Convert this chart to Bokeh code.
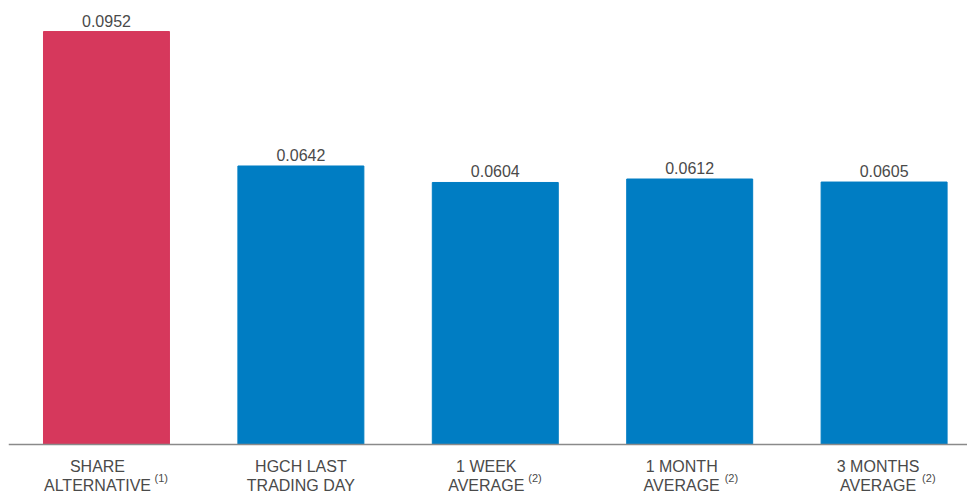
from bokeh.plotting import figure
from bokeh.models import ColumnDataSource, Range1d, Span
from bokeh.core.properties import value
from bokeh.embed import file_html
from bokeh.resources import INLINE

# ---- data ----
line1 = ["SHARE", "HGCH LAST", "1 WEEK", "1 MONTH", "3 MONTHS"]
line2 = ["ALTERNATIVE", "TRADING DAY", "AVERAGE", "AVERAGE", "AVERAGE"]
notes = ["(1)", "", "(2)", "(2)", "(2)"]
values = [0.0952, 0.0642, 0.0604, 0.0612, 0.0605]
value_labels = ["0.0952", "0.0642", "0.0604", "0.0612", "0.0605"]

# ---- styles ----
colors = ["#D6385C", "#007DC3", "#007DC3", "#007DC3", "#007DC3"]
label_shift = [-9, 0, -9, -8, -6]      # px shift of category text
note_shift = [48, 0, 33, 35, 38]       # px offset of superscript start
FONT = value("Liberation Sans")
TXT = "#4a4a4a"

xs = list(range(len(values)))
src = dict(x=xs, top=values, color=colors, lab=value_labels)

p = figure(width=967, height=493, output_backend="svg", toolbar_location=None,
           x_range=Range1d(-0.504, 4.429), y_range=Range1d(-0.0113, 0.10235),
           min_border_left=8, min_border_right=0, min_border_top=0, min_border_bottom=0)
p.xaxis.visible = False
p.yaxis.visible = False
p.xgrid.visible = False
p.ygrid.visible = False
p.outline_line_color = None
p.background_fill_color = "white"

p.vbar(x="x", top="top", width=0.648, bottom=0, color="color", source=ColumnDataSource(src))
p.add_layout(Span(location=0, dimension="width", line_color="#8a8a8a", line_width=1.5))

p.text(x="x", y="top", text="lab", source=ColumnDataSource(src), text_align="center",
       text_baseline="bottom", y_offset=-5, text_font=FONT, text_font_size="16px",
       text_color=TXT)

for i in xs:
    p.text(x=[i], y=[0], text=[line1[i]], x_offset=label_shift[i], y_offset=22,
           text_align="center", text_baseline="middle", text_font=FONT,
           text_font_size="16px", text_color=TXT)
    p.text(x=[i], y=[0], text=[line2[i]], x_offset=label_shift[i], y_offset=41,
           text_align="center", text_baseline="middle", text_font=FONT,
           text_font_size="16px", text_color=TXT)
    if notes[i]:
        p.text(x=[i], y=[0], text=[notes[i]], x_offset=note_shift[i], y_offset=34,
               text_align="left", text_baseline="middle", text_font=FONT,
               text_font_size="11px", text_color=TXT)

open("out.html", "w").write(file_html(p, INLINE))
